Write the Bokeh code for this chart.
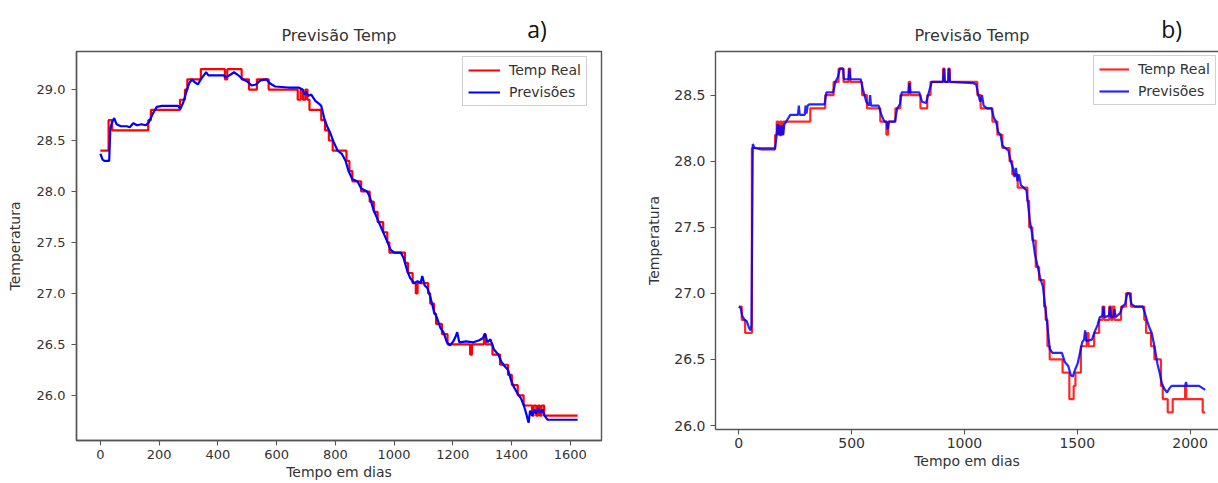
import numpy as np
from bokeh.plotting import figure
from bokeh.layouts import row
from bokeh.models import Legend, LegendItem, LinearAxis, FixedTicker, Range1d
from bokeh.embed import file_html
from bokeh.resources import INLINE

# ---------------- data ----------------
series_names = ["Temp Real", "Previsões"]
title_text = "Previsão Temp"
x_label = "Tempo em dias"
y_label = "Temperatura"
panel_tags = ["a)", "b)"]

# panel a) -- real temperature (step breakpoints)
days_real_a = [0, 28, 40, 163, 172, 271, 288, 296, 342, 424, 432, 481, 506, 533, 573,
               672, 682, 690, 698, 705, 712, 752, 765, 778, 791, 838, 848, 858, 888, 917,
               931, 944, 963, 977, 984, 1037, 1047, 1063, 1074, 1080, 1116, 1123, 1136,
               1143, 1163, 1182, 1259, 1265, 1306, 1312, 1335, 1361, 1388, 1401, 1421,
               1441, 1470, 1475, 1484, 1490, 1496, 1502, 1511, 1625]
temp_real_a = [28.4, 28.7, 28.6, 28.7, 28.8, 28.9, 29.0, 29.1, 29.2, 29.1, 29.2, 29.1, 29.0,
               29.1, 29.0, 28.9, 29.0, 28.9, 29.0, 28.9, 28.8, 28.7, 28.6, 28.5, 28.4, 28.3,
               28.2, 28.1, 28.0, 27.9, 27.8, 27.7, 27.6, 27.5, 27.4, 27.3, 27.2, 27.1, 27.0,
               27.1, 27.0, 26.9, 26.8, 26.7, 26.6, 26.5, 26.4, 26.5, 26.6, 26.5, 26.4, 26.3,
               26.2, 26.1, 26.0, 25.9, 25.8, 25.9, 25.8, 25.9, 25.8, 25.9, 25.8, 25.8]

# panel a) -- predictions
days_pred_a = [0, 8, 15, 30, 34, 40, 47, 55, 70, 90, 100, 112, 125, 140, 155, 165, 178, 192,
               210, 265, 272, 282, 292, 302, 312, 322, 332, 342, 352, 360, 368, 420, 428,
               445, 455, 470, 485, 500, 515, 530, 545, 565, 578, 595, 640, 675, 688, 695,
               700, 708, 718, 732, 745, 752, 762, 772, 782, 795, 808, 822, 835, 845, 858,
               875, 888, 908, 917, 930, 945, 960, 975, 988, 1000, 1023, 1032, 1045, 1055,
               1068, 1080, 1090, 1096, 1104, 1114, 1124, 1136, 1146, 1158, 1168, 1180,
               1190, 1202, 1210, 1215, 1222, 1245, 1270, 1290, 1302, 1310, 1318, 1328,
               1340, 1355, 1365, 1375, 1388, 1398, 1408, 1420, 1432, 1442, 1450, 1458,
               1463, 1470, 1477, 1483, 1490, 1497, 1505, 1512, 1523, 1625]
temp_pred_a = [28.37, 28.31, 28.30, 28.30, 28.62, 28.68, 28.72, 28.66, 28.64, 28.64, 28.63,
               28.67, 28.65, 28.66, 28.65, 28.68, 28.76, 28.83, 28.84, 28.84, 28.81, 28.87,
               28.97, 29.06, 29.10, 29.07, 29.05, 29.10, 29.14, 29.17, 29.14, 29.14, 29.12,
               29.15, 29.17, 29.14, 29.10, 29.08, 29.04, 29.05, 29.09, 29.10, 29.06, 29.03,
               29.02, 29.02, 29.00, 28.95, 28.98, 28.94, 28.95, 28.89, 28.86, 28.84, 28.72,
               28.64, 28.58, 28.48, 28.40, 28.37, 28.30, 28.20, 28.12, 28.10, 28.03, 28.00,
               27.95, 27.82, 27.72, 27.62, 27.52, 27.43, 27.40, 27.40, 27.35, 27.22, 27.15,
               27.10, 27.12, 27.10, 27.17, 27.08, 27.05, 26.96, 26.82, 26.76, 26.66, 26.62,
               26.52, 26.49, 26.53, 26.58, 26.62, 26.52, 26.53, 26.52, 26.54, 26.56, 26.60,
               26.52, 26.55, 26.45, 26.40, 26.33, 26.29, 26.25, 26.15, 26.08, 26.02, 25.97,
               25.90, 25.82, 25.73, 25.85, 25.80, 25.86, 25.82, 25.87, 25.83, 25.86, 25.80,
               25.76, 25.76]

# panel b) -- real temperature (step breakpoints)
days_real_b = [0, 13, 28, 58, 161, 168, 175, 182, 190, 197, 317, 383, 420, 442, 464, 487,
               494, 546, 568, 627, 654, 662, 694, 716, 753, 760, 805, 835, 850, 905, 912,
               928, 935, 1057, 1072, 1124, 1146, 1168, 1200, 1212, 1236, 1279, 1287, 1301,
               1316, 1331, 1353, 1360, 1368, 1378, 1435, 1465, 1484, 1492, 1516, 1542,
               1550, 1575, 1597, 1612, 1620, 1642, 1650, 1657, 1665, 1694, 1716, 1738,
               1797, 1805, 1827, 1842, 1871, 1879, 1901, 1923, 1978, 1983, 2056, 2067]
temp_real_b = [26.9, 26.8, 26.7, 28.1, 28.2, 28.3, 28.2, 28.3, 28.2, 28.3, 28.4, 28.5, 28.6,
               28.7, 28.6, 28.7, 28.6, 28.5, 28.4, 28.3, 28.2, 28.3, 28.4, 28.5, 28.6, 28.5,
               28.4, 28.5, 28.6, 28.7, 28.6, 28.7, 28.6, 28.5, 28.4, 28.3, 28.2, 28.1, 28.0,
               27.9, 27.8, 27.7, 27.5, 27.4, 27.2, 27.1, 26.9, 26.8, 26.6, 26.5, 26.4, 26.2,
               26.3, 26.4, 26.6, 26.7, 26.6, 26.7, 26.8, 26.9, 26.8, 26.9, 26.8, 26.9, 26.8,
               26.9, 27.0, 26.9, 26.8, 26.7, 26.6, 26.5, 26.3, 26.2, 26.1, 26.2, 26.3, 26.2,
               26.1, 26.1]

# panel b) -- predictions
days_pred_b = [0, 8, 15, 25, 35, 45, 52, 56, 62, 70, 100, 160, 168, 172, 176, 180, 185, 190,
               196, 202, 210, 228, 262, 266, 270, 292, 296, 300, 305, 312, 380, 388, 418,
               428, 440, 448, 462, 466, 486, 490, 494, 540, 552, 565, 578, 582, 586, 620,
               632, 645, 655, 660, 666, 692, 702, 714, 722, 752, 756, 760, 800, 812, 830,
               842, 855, 905, 909, 913, 928, 932, 936, 1040, 1052, 1062, 1070, 1078, 1085,
               1100, 1120, 1130, 1140, 1150, 1160, 1168, 1180, 1195, 1205, 1215, 1222,
               1228, 1235, 1242, 1250, 1262, 1275, 1290, 1300, 1312, 1325, 1335, 1348,
               1358, 1368, 1378, 1390, 1432, 1445, 1460, 1472, 1480, 1492, 1502, 1512,
               1522, 1530, 1535, 1540, 1565, 1575, 1590, 1600, 1612, 1616, 1620, 1640,
               1645, 1650, 1660, 1665, 1670, 1690, 1700, 1712, 1722, 1732, 1740, 1755,
               1790, 1800, 1810, 1820, 1830, 1842, 1855, 1865, 1875, 1885, 1898, 1908,
               1918, 1978, 1982, 1986, 2040, 2067]
temp_pred_b = [26.90, 26.89, 26.83, 26.80, 26.79, 26.74, 26.72, 26.76, 28.13, 28.10, 28.09,
               28.09, 28.20, 28.28, 28.20, 28.27, 28.19, 28.27, 28.20, 28.28, 28.30, 28.35,
               28.35, 28.42, 28.35, 28.35, 28.42, 28.36, 28.42, 28.43, 28.43, 28.52, 28.52,
               28.60, 28.64, 28.70, 28.70, 28.62, 28.62, 28.70, 28.62, 28.62, 28.53, 28.45,
               28.42, 28.50, 28.42, 28.42, 28.35, 28.30, 28.30, 28.24, 28.30, 28.30, 28.40,
               28.43, 28.52, 28.52, 28.59, 28.52, 28.52, 28.45, 28.44, 28.52, 28.60, 28.60,
               28.70, 28.60, 28.60, 28.70, 28.60, 28.59, 28.58, 28.50, 28.45, 28.50, 28.42,
               28.40, 28.40, 28.33, 28.30, 28.22, 28.20, 28.12, 28.10, 28.08, 28.00, 27.95,
               27.88, 27.95, 27.85, 27.90, 27.82, 27.80, 27.78, 27.55, 27.45, 27.30, 27.20,
               27.12, 27.05, 26.90, 26.75, 26.58, 26.55, 26.55, 26.48, 26.45, 26.38, 26.37,
               26.43, 26.47, 26.55, 26.63, 26.65, 26.72, 26.64, 26.65, 26.70, 26.76, 26.82,
               26.83, 26.90, 26.82, 26.83, 26.90, 26.82, 26.82, 26.88, 26.82, 26.85, 26.90,
               26.92, 27.00, 27.00, 26.92, 26.90, 26.90, 26.85, 26.79, 26.74, 26.70, 26.60,
               26.47, 26.40, 26.32, 26.28, 26.25, 26.28, 26.30, 26.30, 26.33, 26.30, 26.30,
               26.27]

xticks_a = [0, 200, 400, 600, 800, 1000, 1200, 1400, 1600]
yticks_a = [26.0, 26.5, 27.0, 27.5, 28.0, 28.5, 29.0]
ytick_labels_a = ["26.0", "26.5", "27.0", "27.5", "28.0", "28.5", "29.0"]
xticks_b = [0, 500, 1000, 1500, 2000]
yticks_b = [26.0, 26.5, 27.0, 27.5, 28.0, 28.5]
ytick_labels_b = ["26.0", "26.5", "27.0", "27.5", "28.0", "28.5"]

# ---------------- styling ----------------
FONT = "DejaVu Sans"
TEXT = "#333333"
SPINE = "#555555"
RED = "#ff0000"
BLUE = "#0000ff"


def style_axis(ax, label_standoff, axis_standoff, tick_size):
    ax.axis_line_color = SPINE
    ax.axis_line_width = 1.4
    ax.major_tick_line_color = SPINE
    ax.major_tick_line_width = 1.1
    ax.major_tick_out = 5
    ax.major_tick_in = 0
    ax.minor_tick_line_color = None
    ax.major_label_text_font = FONT
    ax.major_label_text_font_size = tick_size
    ax.major_label_text_color = TEXT
    ax.major_label_standoff = label_standoff
    ax.axis_label_text_font = FONT
    ax.axis_label_text_font_size = "14px"
    ax.axis_label_text_font_style = "normal"
    ax.axis_label_text_color = TEXT
    ax.axis_label_standoff = axis_standoff


def text_axis(p, pos, text, font, size, color, standoff, line_color):
    # an axis above the frame that carries one text at a chosen place
    ax = LinearAxis(ticker=FixedTicker(ticks=[pos]), major_label_overrides={pos: text})
    ax.major_label_text_font = font
    ax.major_label_text_font_size = size
    ax.major_label_text_color = color
    ax.major_label_standoff = standoff
    ax.major_tick_out = 0
    ax.major_tick_in = 0
    ax.major_tick_line_color = None
    ax.minor_tick_line_color = None
    ax.axis_line_color = line_color
    ax.axis_line_width = 1.4
    p.add_layout(ax, "above")


def build(days_r, temp_r, days_p, temp_p, xticks, yticks, ylabels, width, height,
          mb, xspan_ratio, alpha, tag, tag_frac, legend_pos, glyph_w, full_outline,
          lstand, title_standoff, tag_standoff, tick_size):
    xmax = max(max(days_r), max(days_p))
    allv = list(temp_r) + list(temp_p)
    ymin, ymax = min(allv), max(allv)
    ypad = 0.05 * (ymax - ymin)
    x0 = -0.05 * xmax
    full_span = 1.1 * xmax
    x1 = x0 + full_span * xspan_ratio
    p = figure(width=width, height=height, output_backend="svg", toolbar_location=None,
               x_range=Range1d(x0, x1), y_range=Range1d(ymin - ypad, ymax + ypad),
               min_border_left=mb[0], min_border_right=mb[1], min_border_top=mb[2],
               min_border_bottom=mb[3], background_fill_color="white",
               border_fill_color="white")
    p.xgrid.visible = False
    p.ygrid.visible = False

    r1 = p.step(days_r, temp_r, mode="after", line_color=RED, line_width=2.2,
                line_alpha=alpha)
    r2 = p.line(days_p, temp_p, line_color=BLUE, line_width=2.2, line_alpha=alpha)

    xa = p.below[0]
    ya = p.left[0]
    xa.ticker = FixedTicker(ticks=xticks)
    ya.ticker = FixedTicker(ticks=yticks)
    ya.major_label_overrides = {v: s for v, s in zip(yticks, ylabels)}
    xa.axis_label = x_label
    ya.axis_label = y_label
    style_axis(xa, lstand[0], lstand[1], tick_size)
    style_axis(ya, lstand[2], lstand[3], tick_size)

    if full_outline:
        p.outline_line_color = SPINE
        p.outline_line_width = 1.4
        spine = None
    else:
        p.outline_line_color = None
        spine = SPINE

    title_pos = round(x0 + 0.5 * full_span, 3)
    tag_pos = round(x0 + tag_frac * full_span, 3)
    text_axis(p, title_pos, title_text, FONT, "16px", TEXT, title_standoff, spine)
    text_axis(p, tag_pos, tag, "Open Sans", "23px", "#111111", tag_standoff, None)

    legend = Legend(items=[LegendItem(label=series_names[0], renderers=[r1]),
                           LegendItem(label=series_names[1], renderers=[r2])],
                    location=legend_pos, padding=5, spacing=6, margin=0,
                    glyph_width=glyph_w, glyph_height=16, label_height=16,
                    label_standoff=9, label_text_font=FONT, label_text_font_size="14px",
                    label_text_color=TEXT, border_line_color="#cccccc",
                    border_line_width=1, border_line_alpha=0.9,
                    background_fill_color="white", background_fill_alpha=0.9)
    p.add_layout(legend)
    return p


# panel a: canvas x 0..628 (483 tall), frame 76..601 x 51..440
pa = build(days_real_a, temp_real_a, days_pred_a, temp_pred_a, xticks_a, yticks_a,
           ytick_labels_a, width=628, height=483, mb=(76, 27, 51, 43), xspan_ratio=1.0,
           alpha=1.0, tag=panel_tags[0], tag_frac=0.877, legend_pos=(386, 334),
           glyph_w=32, full_outline=True, lstand=(4, 2, 6, 11),
           title_standoff=7, tag_standoff=-22, tick_size="13px")

# panel b: canvas x 628..1218 (472 tall), frame 715..1218 x 51..429 (cut at the right edge)
pb = build(days_real_b, temp_real_b, days_pred_b, temp_pred_b, xticks_b, yticks_b,
           ytick_labels_b, width=590, height=472, mb=(87, 0, 51, 43),
           xspan_ratio=503.0 / 513.0, alpha=0.85, tag=panel_tags[1], tag_frac=0.889,
           legend_pos=(378, 324), glyph_w=30, full_outline=False, lstand=(3, 2, 5, 9),
           title_standoff=7, tag_standoff=-22, tick_size="14px")

layout = row(pa, pb, spacing=0)
open("out.html", "w").write(file_html(layout, INLINE))
